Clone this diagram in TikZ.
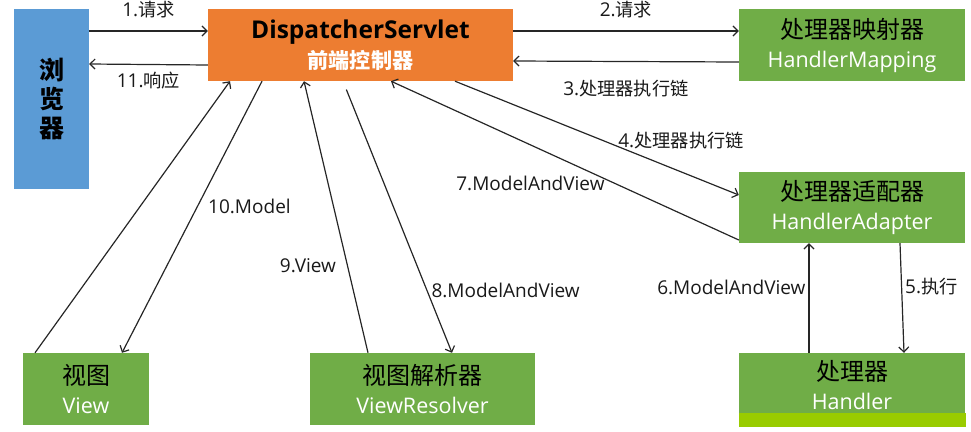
\documentclass[tikz,border=0pt]{standalone}
\usepackage{fontspec}
\setmainfont{Open Sans}
\newfontfamily\zhfont{Noto Sans CJK SC}[Scale=0.96]
\newcommand{\zh}[1]{{\zhfont #1}}
\newcommand{\zhbig}[1]{{\fontsize{25}{29}\selectfont\zhfont #1}}
\usetikzlibrary{arrows.meta,calc}
\definecolor{browserblue}{HTML}{5B9BD5}
\definecolor{dsorange}{HTML}{ED7D31}
\definecolor{compgreen}{HTML}{70AD47}
\definecolor{stripgreen}{HTML}{99CC00}

\begin{document}
\begin{tikzpicture}[
      x=1pt, y=-1pt,
      box/.style={inner sep=0pt, align=center, font=\fontsize{21.5}{29}\selectfont},
      greenbox/.style={box, fill=compgreen, minimum height=72pt},
      conn/.style={-{Straight Barb[length=5pt,width=10pt]}, line width=1.2pt, draw=black!85},
      lbl/.style={font=\fontsize{19}{22}\selectfont, inner sep=1pt, text=black!90}
    ]
      \useasboundingbox (0,0) rectangle (971,431);

      \node[box, fill=browserblue, minimum width=75pt, minimum height=180pt, font=\fontsize{26}{29}\selectfont\bfseries] (browser) at (51.5,99) {\zh{浏}\\\zh{览}\\\zh{器}};
      \node[box, fill=dsorange, minimum width=305pt, minimum height=72pt, font=\fontsize{24.5}{30}\selectfont\bfseries] (ds) at (360.5,45) {DispatcherServlet\\{\color{white}\fontsize{22}{30}\selectfont\zh{前端控制器}}};
      \node[greenbox, minimum width=226pt] (hmap) at (852,45) {\zhbig{处理器映射器}\\\textcolor{white}{HandlerMapping}};
      \node[greenbox, minimum width=226pt, minimum height=71pt] (hadapt) at (852,207.5) {\zhbig{处理器适配器}\\\textcolor{white}{HandlerAdapter}};
      \node[greenbox, minimum width=226pt, minimum height=64pt] (handler) at (852,385) {\zhbig{处理器}\\\textcolor{white}{Handler}};
      \fill[stripgreen] ($(handler.south west)+(0,-4)$) rectangle ($(handler.south east)+(1,10)$);
      \node[greenbox, minimum width=126pt] (view) at (86,389) {\zhbig{视图}\\\textcolor{white}{View}};
      \node[greenbox, minimum width=225pt] (vres) at (422.5,389) {\zhbig{视图解析器}\\\textcolor{white}{ViewResolver}};

      % browser <-> front controller
      \draw[conn] (browser.east |- 0,31) -- node[lbl, above=11pt] {1.\zh{请求}} (ds.west |- 0,31);
      \draw[conn] (ds.west |- 0,65) -- node[lbl, below=6pt] {11.\zh{响应}} (browser.east |- 0,64);
      % mapping
      \draw[conn] (ds.east |- 0,31) -- node[lbl, above=11pt] {2.\zh{请求}} (hmap.west |- 0,31);
      \draw[conn] (hmap.west |- 0,62) -- node[lbl, below=17pt] {3.\zh{处理器执行链}} (ds.east |- 0,61);
      % adapter
      \draw[conn] (ds.south -| 455,0) -- node[lbl, pos=0.57, anchor=south west, yshift=-5pt] {4.\zh{处理器执行链}} (hadapt.west |- 0,195);
      \draw[conn] (hadapt.west |- 0,240) -- node[lbl, pos=0.37, anchor=north east, xshift=-4pt, yshift=7pt] {7.ModelAndView} (ds.south -| 391,0);
      \draw[conn] (hadapt.south -| 900,0) -- node[lbl, pos=0.4, right=2pt] {5.\zh{执行}} (handler.north -| 904,0);
      \draw[conn] (handler.north -| 809,0) -- node[lbl, pos=0.6, left=2pt] {6.ModelAndView} (hadapt.south -| 809,0);
      % view resolver
      \draw[conn, shorten <=9pt] (ds.south -| 343,0) -- node[lbl, pos=0.77, right=3pt] {8.ModelAndView} (vres.north -| 452,0);
      \draw[conn] (vres.north -| 368,0) -- node[lbl, pos=0.32, left=10pt] {9.View} (ds.south -| 304,0);
      % view
      \draw[conn] (ds.south -| 262,0) -- node[lbl, pos=0.46, right=9pt] {10.Model} (view.north -| 122,0);
      \draw[conn] (view.north -| 35,0) -- (ds.south -| 230,0);
    \end{tikzpicture}
\end{document}
